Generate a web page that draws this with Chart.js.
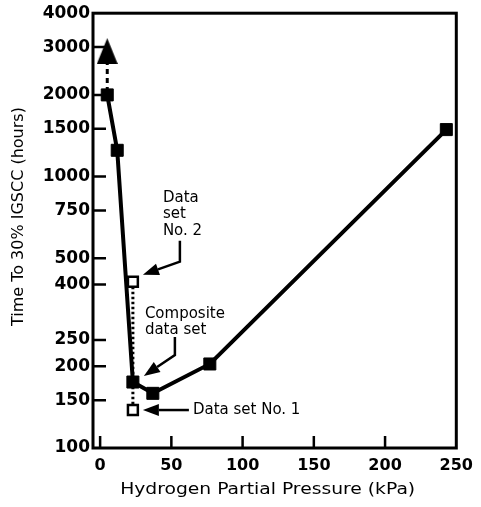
<!DOCTYPE html>
<html>
<head>
<meta charset="utf-8">
<script src="https://cdn.jsdelivr.net/npm/chart.js@4.4.0/dist/chart.umd.min.js"></script>
<style>
  html, body { margin: 0; padding: 0; background: #fff; }
  #wrap { width: 481px; height: 507px; }
</style>
</head>
<body>
<div id="wrap"><canvas id="myChart" width="481" height="507"></canvas></div>
<script>
'use strict';

// values
let compositeX = [5, 12, 23, 37, 77, 243];
let compositeY = [2000, 1250, 175, 159, 204, 1490];
let runoutX = [5, 5];
let runoutY = [2900, 2000];
let setsX = [23, 23, 23];        // data set No. 2, composite, data set No. 1
let setsY = [410, 175, 138];
let xTicks = [0, 50, 100, 150, 200, 250];
let yTicks = [100, 150, 200, 250, 400, 500, 750, 1000, 1500, 2000, 3000, 4000];

let xTitle = 'Hydrogen Partial Pressure (kPa)';
let yTitle = 'Time To 30% IGSCC (hours)';

//Helper Functions
function toPoints(xs, ys) {
  let pts = [];
  for (let i = 0; i < xs.length; i++) {
    pts.push({ x: xs[i], y: ys[i] });
  }
  return pts;
}

function makeTriangle(w, h) {
  let c = document.createElement('canvas');
  c.width = w;
  c.height = h;
  let g = c.getContext('2d');
  g.fillStyle = '#000';
  g.beginPath();
  g.moveTo(w / 2, 0);
  g.lineTo(w, h);
  g.lineTo(0, h);
  g.closePath();
  g.fill();
  return c;
}

function drawArrow(ctx, path) {
  // last point of path is the tip
  let n = path.length;
  let tip = path[n - 1];
  let prev = path[n - 2];
  let ang = Math.atan2(tip.y - prev.y, tip.x - prev.x);
  let len = 16, half = 6;
  let bx = tip.x - Math.cos(ang) * len;
  let by = tip.y - Math.sin(ang) * len;
  ctx.beginPath();
  ctx.moveTo(path[0].x, path[0].y);
  for (let i = 1; i < n - 1; i++) ctx.lineTo(path[i].x, path[i].y);
  ctx.lineTo(bx, by);
  ctx.stroke();
  ctx.beginPath();
  ctx.moveTo(tip.x, tip.y);
  ctx.lineTo(bx - Math.sin(ang) * half, by + Math.cos(ang) * half);
  ctx.lineTo(bx + Math.sin(ang) * half, by - Math.cos(ang) * half);
  ctx.closePath();
  ctx.fill();
}

function stretchedText(ctx, text, x, y, sx) {
  ctx.save();
  ctx.translate(x, y);
  ctx.scale(sx, 1);
  ctx.fillText(text, 0, 0);
  ctx.restore();
}

// frame + inward tick marks
const framePlugin = {
  id: 'frame',
  beforeDatasetsDraw(chart) {
    let ctx = chart.ctx;
    let a = chart.chartArea;
    let xs = chart.scales.x, ys = chart.scales.y;
    ctx.save();
    ctx.strokeStyle = '#000';
    ctx.lineWidth = 3;
    ctx.strokeRect(a.left, a.top, a.right - a.left, a.bottom - a.top);
    ctx.lineWidth = 2.5;
    ctx.beginPath();
    for (let v of yTicks) {
      let y = ys.getPixelForValue(v);
      if (v === yTicks[0] || v === yTicks[yTicks.length - 1]) continue;
      ctx.moveTo(a.left, y);
      ctx.lineTo(a.left + 13, y);
    }
    for (let v of xTicks) {
      let x = xs.getPixelForValue(v);
      if (x >= a.right - 2) continue;
      ctx.moveTo(x, a.bottom);
      ctx.lineTo(x, a.bottom - 12);
    }
    ctx.stroke();
    ctx.restore();
  }
};

// axis titles and callouts
const notesPlugin = {
  id: 'notes',
  afterDatasetsDraw(chart) {
    let ctx = chart.ctx;
    let a = chart.chartArea;
    let xs = chart.scales.x, ys = chart.scales.y;
    let p2 = { x: xs.getPixelForValue(setsX[0]), y: ys.getPixelForValue(setsY[0]) };
    let pc = { x: xs.getPixelForValue(setsX[1]), y: ys.getPixelForValue(setsY[1]) };
    let p1 = { x: xs.getPixelForValue(setsX[2]), y: ys.getPixelForValue(setsY[2]) };

    ctx.save();
    ctx.fillStyle = '#000';
    ctx.strokeStyle = '#000';
    ctx.lineWidth = 2.5;

    ctx.font = '15px "DejaVu Sans"';
    ctx.textAlign = 'left';
    ctx.textBaseline = 'alphabetic';
    ctx.fillText('Data', p2.x + 30, p2.y - 80);
    ctx.fillText('set', p2.x + 30, p2.y - 64);
    ctx.fillText('No. 2', p2.x + 30, p2.y - 47);
    drawArrow(ctx, [{ x: p2.x + 47, y: p2.y - 41 }, { x: p2.x + 47, y: p2.y - 20 }, { x: p2.x + 10, y: p2.y - 7 }]);

    ctx.fillText('Composite', pc.x + 12, pc.y - 64);
    ctx.fillText('data set', pc.x + 12, pc.y - 48);
    drawArrow(ctx, [{ x: pc.x + 42, y: pc.y - 45 }, { x: pc.x + 42, y: pc.y - 27 }, { x: pc.x + 11, y: pc.y - 6 }]);

    ctx.textBaseline = 'middle';
    ctx.fillText('Data set No. 1', p1.x + 60, p1.y);
    drawArrow(ctx, [{ x: p1.x + 56, y: p1.y }, { x: p1.x + 10, y: p1.y }]);

    // axis titles
    ctx.font = '16px "DejaVu Sans"';
    ctx.textAlign = 'center';
    stretchedText(ctx, xTitle, (a.left + a.right) / 2 - 7, 490, 1.17);
    ctx.translate(19, (a.top + a.bottom) / 2 - 14);
    ctx.rotate(-Math.PI / 2);
    ctx.fillText(yTitle, 0, 0);
    ctx.restore();
  }
};

let tri = makeTriangle(21, 26);

const data = {
  datasets: [{
    label: 'Data sets No. 1 and No. 2',
    data: toPoints(setsX, setsY),
    borderColor: '#000',
    borderWidth: 3,
    borderDash: [2.5, 2.5],
    pointStyle: 'rect',
    pointRadius: [7, 0, 7],
    pointBorderWidth: 2.5,
    pointBorderColor: '#000',
    pointBackgroundColor: '#fff',
    order: 0
  }, {
    label: 'Composite data set',
    data: toPoints(compositeX, compositeY),
    borderColor: '#000',
    borderWidth: 4,
    pointStyle: 'rect',
    pointRadius: 8.5,
    pointBorderWidth: 1,
    pointBorderColor: '#000',
    pointBackgroundColor: '#000',
    order: 1
  }, {
    label: 'Runout',
    data: toPoints(runoutX, runoutY),
    borderColor: '#000',
    borderWidth: 3,
    borderDash: [5, 4],
    pointStyle: [tri, 'circle'],
    pointRadius: [10, 0],
    order: 2
  }]
};

const config = {
  type: 'line',
  data: data,
  plugins: [framePlugin, notesPlugin],
  options: {
    responsive: false,
    devicePixelRatio: 1,
    animation: false,
    events: [],
    layout: { padding: { top: 13, right: 24, bottom: 0, left: 0 } },
    plugins: { legend: { display: false }, tooltip: { enabled: false } },
    elements: { line: { tension: 0 } },
    scales: {
      x: {
        type: 'linear',
        min: -5,
        max: 250,
        afterBuildTicks: s => { s.ticks = xTicks.map(v => ({ value: v })); },
        afterFit: s => { s.height = 59; },
        grid: { display: false, drawTicks: false },
        border: { display: false },
        ticks: {
          padding: 8,
          color: '#000',
          autoSkip: false,
          maxRotation: 0,
          font: { family: 'DejaVu Sans', weight: 'bold', size: 16 },
          callback: v => String(v)
        }
      },
      y: {
        type: 'logarithmic',
        min: 100,
        max: 4000,
        afterBuildTicks: s => { s.ticks = yTicks.map(v => ({ value: v })); },
        afterFit: s => { s.width = 93; },
        grid: { display: false, drawTicks: false },
        border: { display: false },
        ticks: {
          padding: 3,
          color: '#000',
          autoSkip: false,
          font: { family: 'DejaVu Sans', weight: 'bold', size: 17 },
          callback: v => String(v)
        }
      }
    }
  }
};

const myChart = new Chart(document.getElementById('myChart'), config);
</script>
</body>
</html>
